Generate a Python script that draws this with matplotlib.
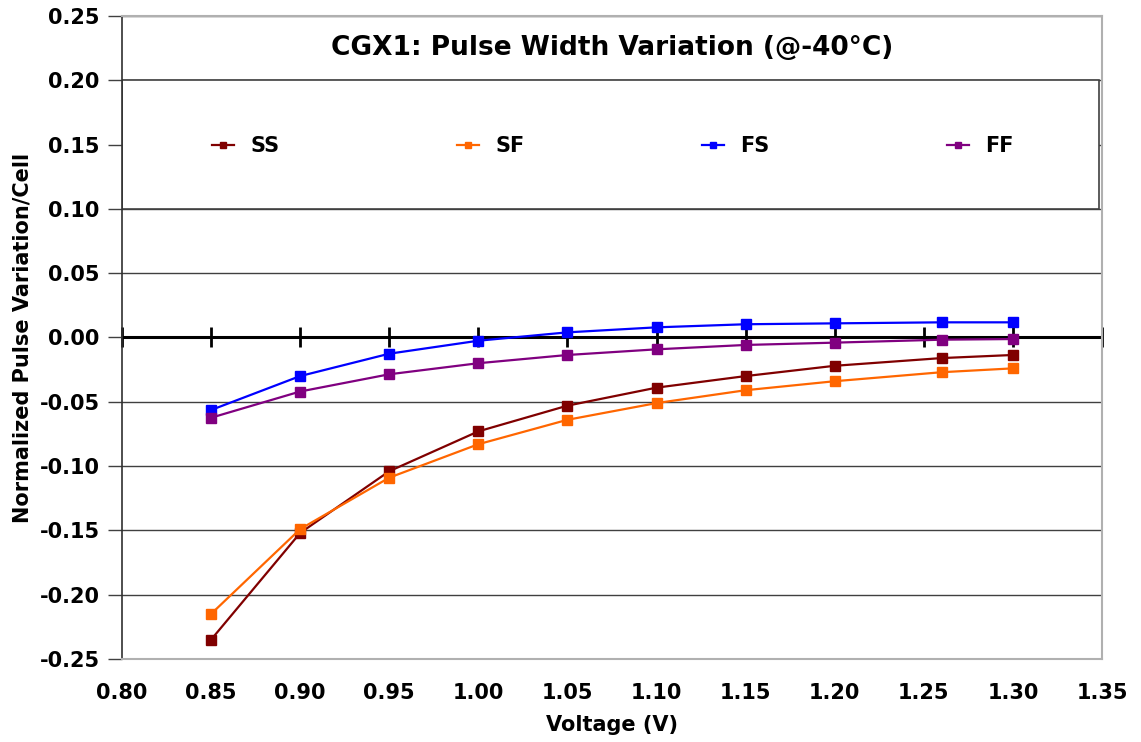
import matplotlib.pyplot as plt
from matplotlib.patches import Rectangle

# data
voltage = [0.85, 0.90, 0.95, 1.00, 1.05, 1.10, 1.15, 1.20, 1.26, 1.30]
ss = [-0.235, -0.152, -0.104, -0.073, -0.053, -0.039, -0.030, -0.022, -0.016, -0.0136]
sf = [-0.215, -0.149, -0.109, -0.083, -0.064, -0.051, -0.041, -0.034, -0.027, -0.024]
fs = [-0.0564, -0.030, -0.0126, -0.0025, 0.004, 0.0079, 0.0103, 0.011, 0.0118, 0.0118]
ff = [-0.0624, -0.042, -0.0286, -0.020, -0.0136, -0.0092, -0.0058, -0.004, -0.0017, -0.0012]

series = [('SS', ss, '#800000'), ('SF', sf, '#FF6600'),
          ('FS', fs, '#0000FF'), ('FF', ff, '#800080')]

x_ticks = [0.80, 0.85, 0.90, 0.95, 1.00, 1.05, 1.10, 1.15, 1.20, 1.25, 1.30, 1.35]
y_ticks = [-0.25, -0.20, -0.15, -0.10, -0.05, 0.00, 0.05, 0.10, 0.15, 0.20, 0.25]

plt.rcParams['font.family'] = ['DejaVu Sans']
plt.rcParams['font.weight'] = 'bold'

fig = plt.figure(figsize=(11.41, 7.42), dpi=100)
ax = fig.add_axes([0.1069, 0.1119, 0.8589, 0.8665])

ax.set_xlim(0.80, 1.35)
ax.set_ylim(-0.25, 0.25)
ax.set_xticks(x_ticks)
ax.set_yticks(y_ticks)
ax.set_xticklabels([f'{v:.2f}' for v in x_ticks])
ax.set_yticklabels([f'{v:.2f}' for v in y_ticks])
ax.tick_params(axis='x', length=0, labelsize=15, pad=17)
ax.tick_params(axis='y', direction='out', length=10, width=1, color='#404040',
               labelsize=15, pad=6)

ax.yaxis.grid(True, color='#404040', linewidth=1, zorder=0.5)
ax.set_axisbelow(True)
for side in ['top', 'right', 'bottom']:
    ax.spines[side].set_color('#b0b0b0')
    ax.spines[side].set_linewidth(1.5)
ax.spines['left'].set_color('#303030')
ax.spines['left'].set_linewidth(1.2)

# legend box (white, covers the 0.15 gridline)
box = Rectangle((0.80, 0.10), 0.5485, 0.10, facecolor='white', edgecolor='#404040',
                linewidth=1.2, zorder=2)
ax.add_patch(box)

# x axis line at y = 0 with crossing ticks
ax.axhline(0, color='black', linewidth=2.2, zorder=2.5)
sec = ax.secondary_xaxis(0.5)
sec.set_xticks(x_ticks)
sec.set_xticklabels([])
sec.tick_params(direction='inout', length=15, width=2, color='black',
                labelbottom=False, labeltop=False)
for s in sec.spines.values():
    s.set_visible(False)

for name, vals, color in series:
    ax.plot(voltage, vals, color=color, linewidth=1.6, marker='s', markersize=6.5,
            label=name, zorder=3, clip_on=False)

leg = ax.legend(loc='center', bbox_to_anchor=(0.501, 0.149), bbox_transform=ax.get_yaxis_transform(),
                ncol=4, frameon=False, fontsize=15, handlelength=1.05, handletextpad=0.8,
                columnspacing=8.5, markerscale=0.7)
leg.set_zorder(4)

ax.text(0.5, 0.225, 'CGX1: Pulse Width Variation (@-40°C)', transform=ax.get_yaxis_transform(),
        ha='center', va='center', fontsize=19, fontweight='bold', zorder=4)

ax.set_xlabel('Voltage (V)', fontsize=15, fontweight='bold', labelpad=9)
ax.set_ylabel('Normalized Pulse Variation/Cell', fontsize=15, fontweight='bold', labelpad=5)

fig.savefig('out.png', dpi=100)
